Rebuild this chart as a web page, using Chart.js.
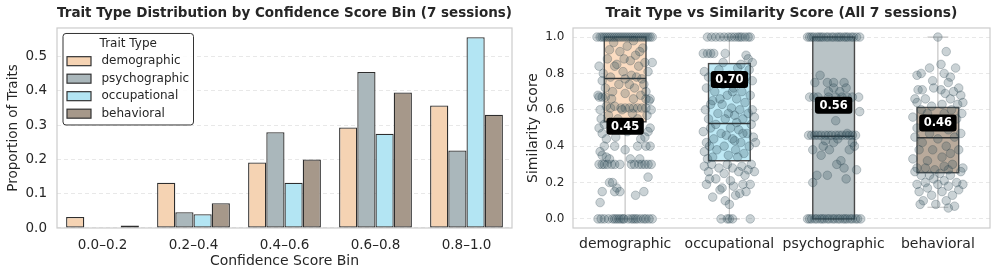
<!DOCTYPE html>
<html>
<head>
<meta charset="utf-8">
<script src="https://cdn.jsdelivr.net/npm/chart.js@4.4.0/dist/chart.umd.min.js"></script>
<style>
  body { margin: 0; background: #fff; }
  #wrap { position: relative; width: 997px; height: 276px; }
  canvas { position: absolute; top: 0; }
  #binChart { left: 0; }
  #simChart { left: 520px; }
</style>
</head>
<body>
<div id="wrap">
  <canvas id="binChart" width="520" height="276"></canvas>
  <canvas id="simChart" width="477" height="276"></canvas>
</div>
<script>
// ---- left panel: share of each trait type per confidence bin
const bins = ['0.0–0.2', '0.2–0.4', '0.4–0.6', '0.6–0.8', '0.8–1.0'];
const demographicShare = [0.032, 0.132, 0.191, 0.293, 0.357];
const psychographicShare = [0, 0.046, 0.279, 0.455, 0.226];
const occupationalShare = [0, 0.040, 0.132, 0.275, 0.556];
const behavioralShare = [0.007, 0.072, 0.200, 0.395, 0.330];
const binTicks = [0, 0.1, 0.2, 0.3, 0.4, 0.5];

// ---- right panel: similarity score per trait type
const boxCats = ['demographic', 'occupational', 'psychographic', 'behavioral'];
const whiskLo = [0, 0, 0, 0.064];
const boxQ1 = [0.534, 0.320, 0, 0.254];
const boxMed = [0.772, 0.525, 0.455, 0.446];
const boxQ3 = [1, 0.854, 1, 0.613];
const whiskHi = [1, 1, 1, 1];
const boxLabels = ['0.45', '0.70', '0.56', '0.46'];
const labelAt = [0.51, 0.766, 0.625, 0.528];
const simTicks = [0, 0.2, 0.4, 0.6, 0.8, 1.0];

// strip points, [jitter, score]
const demoPts = [
  [-0.27,1],[-0.24,1],[-0.22,1],[-0.2,1],[-0.18,1],[-0.16,1],[-0.14,1],[-0.12,1],[-0.1,1],[-0.08,1],
  [-0.06,1],[-0.04,1],[-0.02,1],[0,1],[0.02,1],[0.04,1],[0.06,1],[0.08,1],[0.1,1],[0.12,1],
  [0.14,1],[0.16,1],[0.18,1],[0.2,1],[0.22,1],[0.24,1],[0.26,1],
  [-0.26,0],[-0.23,0],[-0.2,0],[-0.16,0],[-0.12,0],[-0.1,0],[-0.08,0],[-0.06,0],[-0.04,0],[-0.02,0],
  [-0.01,0],[0.03,0],[0.06,0],[0.08,0],[0.1,0],[0.12,0],[0.15,0],[0.18,0],[0.2,0],[0.23,0],[0.26,0],
  [-0.25,0.3],[-0.22,0.3],[-0.2,0.3],[-0.17,0.3],[-0.13,0.3],[-0.1,0.3],[-0.05,0.3],[0.06,0.3],
  [0.09,0.3],[0.13,0.3],[0.16,0.3],[0.19,0.3],[0.22,0.3],[0.25,0.3],
  [-0.24,0.37],[-0.22,0.35],[-0.15,0.33],[-0.2,0.4],[-0.1,0.4],[0,0.38],[0.05,0.33],[0.12,0.4],
  [0.2,0.4],[0.24,0.4],[0.14,0.33],[-0.18,0.34],
  [-0.24,0.09],[-0.22,0.15],[-0.15,0.2],[-0.1,0.15],[-0.05,0.15],[-0.12,0.2],[0.1,0.13],[0.18,0.15],
  [0.22,0.23],[-0.08,0.17],
  [-0.04,0.61],[0,0.61],[0.04,0.61],[0.08,0.61],[0.12,0.61],[0.16,0.61],[0.2,0.61],
  [-0.25,0.67],[-0.22,0.67],[-0.19,0.67],[0.2,0.66],[0.24,0.66],
  [-0.25,0.84],[-0.22,0.76],[-0.26,0.68],[-0.24,0.6],[-0.23,0.55],[-0.25,0.5],[-0.22,0.47],[-0.2,0.52],
  [-0.18,0.62],[-0.19,0.72],[-0.21,0.8],[-0.17,0.88],[-0.15,0.93],[-0.14,0.78],[-0.12,0.7],[-0.16,0.57],
  [-0.1,0.62],[-0.13,0.66],[-0.08,0.85],[-0.05,0.92],[-0.06,0.74],[-0.03,0.6],[-0.02,0.81],[0,0.69],
  [0.02,0.95],[0.05,0.87],[0.04,0.74],[0.07,0.58],[0.08,0.66],[0.06,0.79],[0.1,0.9],[0.09,0.72],
  [0.13,0.84],[0.12,0.55],[0.15,0.68],[0.17,0.94],[0.16,0.77],[0.19,0.86],[0.2,0.7],[0.21,0.57],
  [0.22,0.81],[0.23,0.65],[0.24,0.5],[0.25,0.6],[0.26,0.86],[0.22,0.48],[0.19,0.45],[-0.09,0.45],
  [-0.04,0.52],[0,0.77],[-0.11,0.97],[0.08,0.98],[-0.18,0.44],[0.15,0.44],[0.02,0.48],[-0.07,0.55],
  [0.11,0.78],[-0.01,0.88],[-0.14,0.61],[0.18,0.74],[0.14,0.92],[-0.1,0.84]
];
const occPts = [
  [-0.21,1],[-0.17,1],[-0.13,1],[-0.09,1],[-0.05,1],[-0.01,1],[0.02,1],[0.05,1],[0.08,1],[0.1,1],
  [0.12,1],[0.15,1],[0.18,1],[0.2,1],
  [-0.25,0.91],[-0.21,0.91],[-0.18,0.91],[-0.15,0.91],[-0.04,0.91],[0.16,0.9],[0.18,0.88],[0.22,0.86],
  [-0.24,0.81],[-0.22,0.72],[-0.2,0.78],[-0.23,0.6],[-0.25,0.48],[-0.22,0.42],[-0.24,0.37],[-0.21,0.33],
  [-0.2,0.55],[-0.18,0.5],[-0.16,0.65],[-0.15,0.44],[-0.14,0.7],[-0.12,0.38],[-0.11,0.58],[-0.1,0.82],
  [-0.08,0.47],[-0.07,0.63],[-0.06,0.74],[-0.05,0.4],[-0.04,0.55],[-0.02,0.68],[-0.01,0.35],[0,0.79],
  [0.01,0.5],[0.02,0.61],[0.03,0.44],[0.04,0.72],[0.05,0.57],[0.06,0.38],[0.07,0.66],[0.08,0.83],
  [0.09,0.49],[0.1,0.6],[0.11,0.42],[0.12,0.7],[0.13,0.55],[0.14,0.36],[0.15,0.64],[0.16,0.78],
  [0.17,0.47],[0.18,0.58],[0.19,0.4],[0.2,0.68],[0.21,0.52],[0.22,0.6],[0.23,0.45],[0.24,0.56],
  [0.25,0.42],[0.22,0.76],[-0.13,0.52],[-0.03,0.46],[0.07,0.53],[-0.18,0.63],[-0.09,0.66],[0.03,0.7],
  [0.13,0.47],[-0.19,0.4],[0.11,0.85],[-0.06,0.86],[0.19,0.82],[0.05,0.43],[-0.16,0.34],[0.08,0.34],
  [-0.01,0.58],
  [-0.24,0.29],[-0.2,0.26],[-0.17,0.3],[-0.13,0.22],[-0.1,0.28],[-0.07,0.17],[-0.05,0.25],[-0.02,0.3],
  [0.01,0.21],[0.03,0.28],[0.06,0.13],[0.09,0.26],[0.12,0.29],[0.15,0.24],[0.18,0.27],[0.21,0.3],
  [0.24,0.26],[-0.22,0.19],[-0.16,0.12],[-0.09,0.16],[-0.04,0.1],[0,0.08],[0.04,0.18],[0.1,0.14],
  [0.16,0.15],[0.2,0.19],[-0.19,0.22],[0.13,0.19],
  [-0.08,0],[-0.02,0],[0,0],[0.03,0],[0.2,0]
];
const psyPts = [
  [-0.25,1],[-0.23,1],[-0.21,1],[-0.19,1],[-0.16,1],[-0.14,1],[-0.12,1],[-0.1,1],[-0.07,1],[-0.05,1],
  [-0.02,1],[0,1],[0.03,1],[0.05,1],[0.07,1],[0.1,1],[0.12,1],[0.14,1],[0.17,1],[0.19,1],[0.22,1],[0.25,1],
  [-0.25,0],[-0.23,0],[-0.21,0],[-0.18,0],[-0.16,0],[-0.13,0],[-0.11,0],[-0.09,0],[-0.06,0],[-0.04,0],
  [-0.01,0],[0.01,0],[0.04,0],[0.06,0],[0.09,0],[0.11,0],[0.13,0],[0.16,0],[0.18,0],[0.21,0],[0.23,0],[0.26,0],
  [-0.24,0.46],[-0.21,0.46],[-0.18,0.46],[-0.15,0.46],[-0.12,0.46],[-0.08,0.46],[-0.05,0.46],[-0.02,0.46],
  [0.02,0.46],[0.05,0.46],[0.08,0.46],[0.12,0.46],[0.15,0.46],[0.18,0.46],[0.21,0.46],[0.13,0.47],
  [-0.23,0.67],[-0.19,0.67],[-0.15,0.67],[-0.05,0.67],[0.02,0.67],[0.08,0.67],[0.13,0.67],[0.18,0.67],[0.24,0.67],
  [-0.18,0.75],[-0.13,0.79],[-0.06,0.75],[0,0.75],[0.1,0.75],[0.12,0.72],[0,0.72],[-0.05,0.7],[0.06,0.7],
  [0.25,0.59],[0.02,0.54],
  [-0.2,0.2],[-0.16,0.24],[-0.06,0.24],[-0.1,0.4],[-0.04,0.38],[0,0.42],[0.03,0.3],[0.07,0.32],[0.1,0.28],
  [0.12,0.22],[0.15,0.38],[0.18,0.42],[0.2,0.4],[0.22,0.27],[-0.2,0.38],[-0.12,0.35],[0.04,0.44],[-0.08,0.43]
];
const behPts = [
  [0,1],[0.08,0.92],[-0.08,0.83],[0.03,0.85],[0.06,0.8],[-0.2,0.79],[-0.16,0.8],[0.17,0.83],[0.12,0.78],
  [-0.05,0.76],[0.1,0.75],[-0.19,0.71],[-0.15,0.71],[-0.04,0.72],[0.03,0.71],[0.07,0.69],[0.15,0.7],
  [0.2,0.72],[0.22,0.68],[-0.22,0.66],[-0.12,0.66],[-0.06,0.62],[0.04,0.63],[0.12,0.66],[0.19,0.63],
  [0.24,0.64],[-0.2,0.64],
  [-0.24,0.56],[-0.2,0.5],[-0.22,0.45],[-0.18,0.38],[-0.24,0.33],[-0.2,0.28],[-0.15,0.42],[-0.13,0.55],
  [-0.1,0.32],[-0.08,0.47],[-0.05,0.38],[-0.03,0.27],[0,0.44],[0.02,0.52],[0.04,0.34],[0.06,0.29],
  [0.08,0.4],[0.1,0.49],[0.12,0.36],[0.14,0.3],[0.16,0.45],[0.18,0.55],[0.2,0.38],[0.22,0.47],
  [0.24,0.28],[0.23,0.58],[-0.16,0.6],[-0.1,0.58],[0.06,0.58],[0.13,0.6],[-0.06,0.52],[0.1,0.27],[-0.12,0.28],
  [-0.22,0.26],[-0.2,0.19],[-0.18,0.15],[-0.16,0.24],[-0.14,0.1],[-0.12,0.2],[-0.1,0.17],[-0.08,0.24],
  [-0.06,0.13],[-0.04,0.22],[-0.02,0.08],[0,0.19],[0.02,0.25],[0.04,0.15],[0.06,0.21],[0.08,0.1],
  [0.1,0.18],[0.12,0.24],[0.14,0.13],[0.16,0.07],[0.18,0.2],[0.2,0.16],[0.22,0.26],[0.24,0.19],
  [-0.17,0.08],[0.1,0.06]
];

const FONT = '"DejaVu Sans", sans-serif';
const INK = '#262626';

// light frame around the plot area
const frame = {
  id: 'frame',
  beforeDatasetsDraw(chart) {
    const a = chart.chartArea, ctx = chart.ctx;
    ctx.save();
    ctx.strokeStyle = '#cccccc';
    ctx.lineWidth = 1.2;
    ctx.strokeRect(a.left, a.top, a.right - a.left, a.bottom - a.top);
    ctx.restore();
  }
};

// legend with a frame, inside the axes
const legendBox = {
  id: 'legendBox',
  afterDraw(chart) {
    const ctx = chart.ctx, a = chart.chartArea;
    const x = a.left + 6, y = a.top + 5.5, w = 130.5, h = 91.5;
    ctx.save();
    ctx.beginPath();
    ctx.roundRect(x, y, w, h, 3);
    ctx.fillStyle = 'rgba(255,255,255,0.85)';
    ctx.fill();
    ctx.strokeStyle = '#333';
    ctx.lineWidth = 1;
    ctx.stroke();
    ctx.font = '12px ' + FONT;
    ctx.textBaseline = 'middle';
    ctx.textAlign = 'center';
    ctx.fillStyle = INK;
    ctx.fillText('Trait Type', x + w / 2, y + 10);
    ctx.textAlign = 'left';
    chart.data.datasets.forEach((ds, i) => {
      const ry = y + 27.7 + i * 17.5;
      ctx.fillStyle = ds.backgroundColor;
      ctx.fillRect(x + 4, ry - 4.5, 24, 9);
      ctx.strokeStyle = '#333';
      ctx.lineWidth = 1.2;
      ctx.strokeRect(x + 4, ry - 4.5, 24, 9);
      ctx.fillStyle = INK;
      ctx.fillText(ds.label, x + 38.5, ry);
    });
    ctx.restore();
  }
};

const barColors = ['#f5d3b3', '#aab7bb', '#b3e5f3', '#a6988a'];
const shares = [demographicShare, psychographicShare, occupationalShare, behavioralShare];
const barLabels = ['demographic', 'psychographic', 'occupational', 'behavioral'];

new Chart(document.getElementById('binChart'), {
  type: 'bar',
  data: {
    labels: bins,
    datasets: shares.map((d, i) => ({
      label: barLabels[i],
      data: d,
      backgroundColor: barColors[i],
      borderColor: '#2e2e2e',
      borderWidth: 1.3,
      borderSkipped: false,
      categoryPercentage: 0.8,
      barPercentage: 1.0
    }))
  },
  options: {
    responsive: false,
    animation: false,
    layout: { padding: { right: 8 } },
    plugins: {
      legend: { display: false },
      tooltip: { enabled: false },
      title: {
        display: true,
        fullSize: false,
        text: 'Trait Type Distribution by Confidence Score Bin (7 sessions)',
        color: INK,
        font: { family: FONT, size: 13.9, weight: 'bold' },
        padding: { top: 5, bottom: 6.3 }
      }
    },
    scales: {
      x: {
        grid: { display: false, drawTicks: false },
        border: { display: false },
        ticks: { color: INK, font: { family: FONT, size: 13.5 }, padding: 8.9 },
        title: {
          display: true, text: 'Confidence Score Bin', color: INK,
          font: { family: FONT, size: 14 }, padding: { top: 0, bottom: 6.6 }
        },
        afterFit(s) { s.height = 48; }
      },
      y: {
        min: 0,
        max: 0.583,
        afterBuildTicks(s) { s.ticks = binTicks.map(v => ({ value: v })); },
        grid: { color: 'rgba(0,0,0,0.09)', drawTicks: false },
        border: { display: false, dash: [4, 3] },
        ticks: { color: INK, font: { family: FONT, size: 13.5 }, padding: 10, callback: v => v.toFixed(1) },
        title: {
          display: true, text: 'Proportion of Traits', color: INK,
          font: { family: FONT, size: 13.5 }, padding: { top: 5, bottom: 0 }
        },
        afterFit(s) { s.width = 57; }
      }
    }
  },
  plugins: [frame, legendBox]
});

// boxes + whiskers drawn beneath the strip points
const boxFill = ['#fbdcc1', '#bfeaf6', '#b9c3c6', '#b9aa9b'];
const boxes = {
  id: 'boxes',
  beforeDatasetsDraw(chart) {
    const ctx = chart.ctx, xs = chart.scales.x, ys = chart.scales.y;
    ctx.save();
    boxCats.forEach((c, i) => {
      const xl = xs.getPixelForValue(i - 0.2), xr = xs.getPixelForValue(i + 0.2);
      const xc = xs.getPixelForValue(i);
      const capL = xs.getPixelForValue(i - 0.1), capR = xs.getPixelForValue(i + 0.1);
      const yq1 = ys.getPixelForValue(boxQ1[i]), yq3 = ys.getPixelForValue(boxQ3[i]);
      const ylo = ys.getPixelForValue(whiskLo[i]), yhi = ys.getPixelForValue(whiskHi[i]);
      const ym = ys.getPixelForValue(boxMed[i]);
      ctx.strokeStyle = '#c4c4c4';
      ctx.lineWidth = 1.2;
      ctx.beginPath();
      ctx.moveTo(xc, yq1); ctx.lineTo(xc, ylo);
      ctx.moveTo(xc, yq3); ctx.lineTo(xc, yhi);
      ctx.moveTo(capL, ylo); ctx.lineTo(capR, ylo);
      ctx.moveTo(capL, yhi); ctx.lineTo(capR, yhi);
      ctx.stroke();
      ctx.fillStyle = boxFill[i];
      ctx.fillRect(xl, yq3, xr - xl, yq1 - yq3);
      ctx.strokeStyle = '#4a4a4a';
      ctx.lineWidth = 1.4;
      ctx.strokeRect(xl, yq3, xr - xl, yq1 - yq3);
      ctx.strokeStyle = '#333';
      ctx.lineWidth = 1.5;
      ctx.beginPath();
      ctx.moveTo(xl, ym); ctx.lineTo(xr, ym);
      ctx.stroke();
    });
    ctx.restore();
  },
  afterDatasetsDraw(chart) {
    const ctx = chart.ctx, xs = chart.scales.x, ys = chart.scales.y;
    ctx.save();
    ctx.font = 'bold 11.5px ' + FONT;
    ctx.textAlign = 'center';
    ctx.textBaseline = 'middle';
    boxLabels.forEach((t, i) => {
      const cx = xs.getPixelForValue(i), cy = ys.getPixelForValue(labelAt[i]);
      const w = ctx.measureText(t).width + 9, h = 17;
      ctx.fillStyle = '#000';
      ctx.beginPath();
      ctx.roundRect(cx - w / 2, cy - h / 2, w, h, 3);
      ctx.fill();
      ctx.fillStyle = '#fff';
      ctx.fillText(t, cx, cy + 0.5);
    });
    ctx.restore();
  }
};

const stripSets = [demoPts, occPts, psyPts, behPts];
const stripData = [];
stripSets.forEach((pts, i) => pts.forEach(p => stripData.push({ x: i + p[0], y: p[1] })));

new Chart(document.getElementById('simChart'), {
  type: 'scatter',
  data: {
    datasets: [{
      data: stripData,
      pointRadius: 4.3,
      backgroundColor: 'rgba(45,75,88,0.25)',
      borderColor: 'rgba(30,55,65,0.3)',
      borderWidth: 0.8
    }]
  },
  options: {
    responsive: false,
    animation: false,
    layout: { padding: { right: 7 } },
    plugins: {
      legend: { display: false },
      tooltip: { enabled: false },
      title: {
        display: true,
        fullSize: false,
        text: 'Trait Type vs Similarity Score (All 7 sessions)',
        color: INK,
        font: { family: FONT, size: 13.9, weight: 'bold' },
        padding: { top: 5, bottom: 6.3 }
      }
    },
    scales: {
      x: {
        type: 'linear',
        min: -0.5,
        max: 3.5,
        afterBuildTicks(s) { s.ticks = boxCats.map((c, i) => ({ value: i })); },
        grid: { display: false, drawTicks: false },
        border: { display: false },
        ticks: { color: INK, font: { family: FONT, size: 14 }, padding: 7.9, callback: v => boxCats[v] },
        afterFit(s) { s.height = 48; }
      },
      y: {
        min: -0.05,
        max: 1.05,
        afterBuildTicks(s) { s.ticks = simTicks.map(v => ({ value: v })); },
        grid: { color: 'rgba(0,0,0,0.09)', drawTicks: false },
        border: { display: false, dash: [4, 3] },
        ticks: { color: INK, font: { family: FONT, size: 12 }, padding: 8.7, callback: v => v.toFixed(1) },
        title: {
          display: true, text: 'Similarity Score', color: INK,
          font: { family: FONT, size: 14 }, padding: { top: 5, bottom: 0 }
        },
        afterFit(s) { s.width = 53; }
      }
    }
  },
  plugins: [frame, boxes]
});
</script>
</body>
</html>
